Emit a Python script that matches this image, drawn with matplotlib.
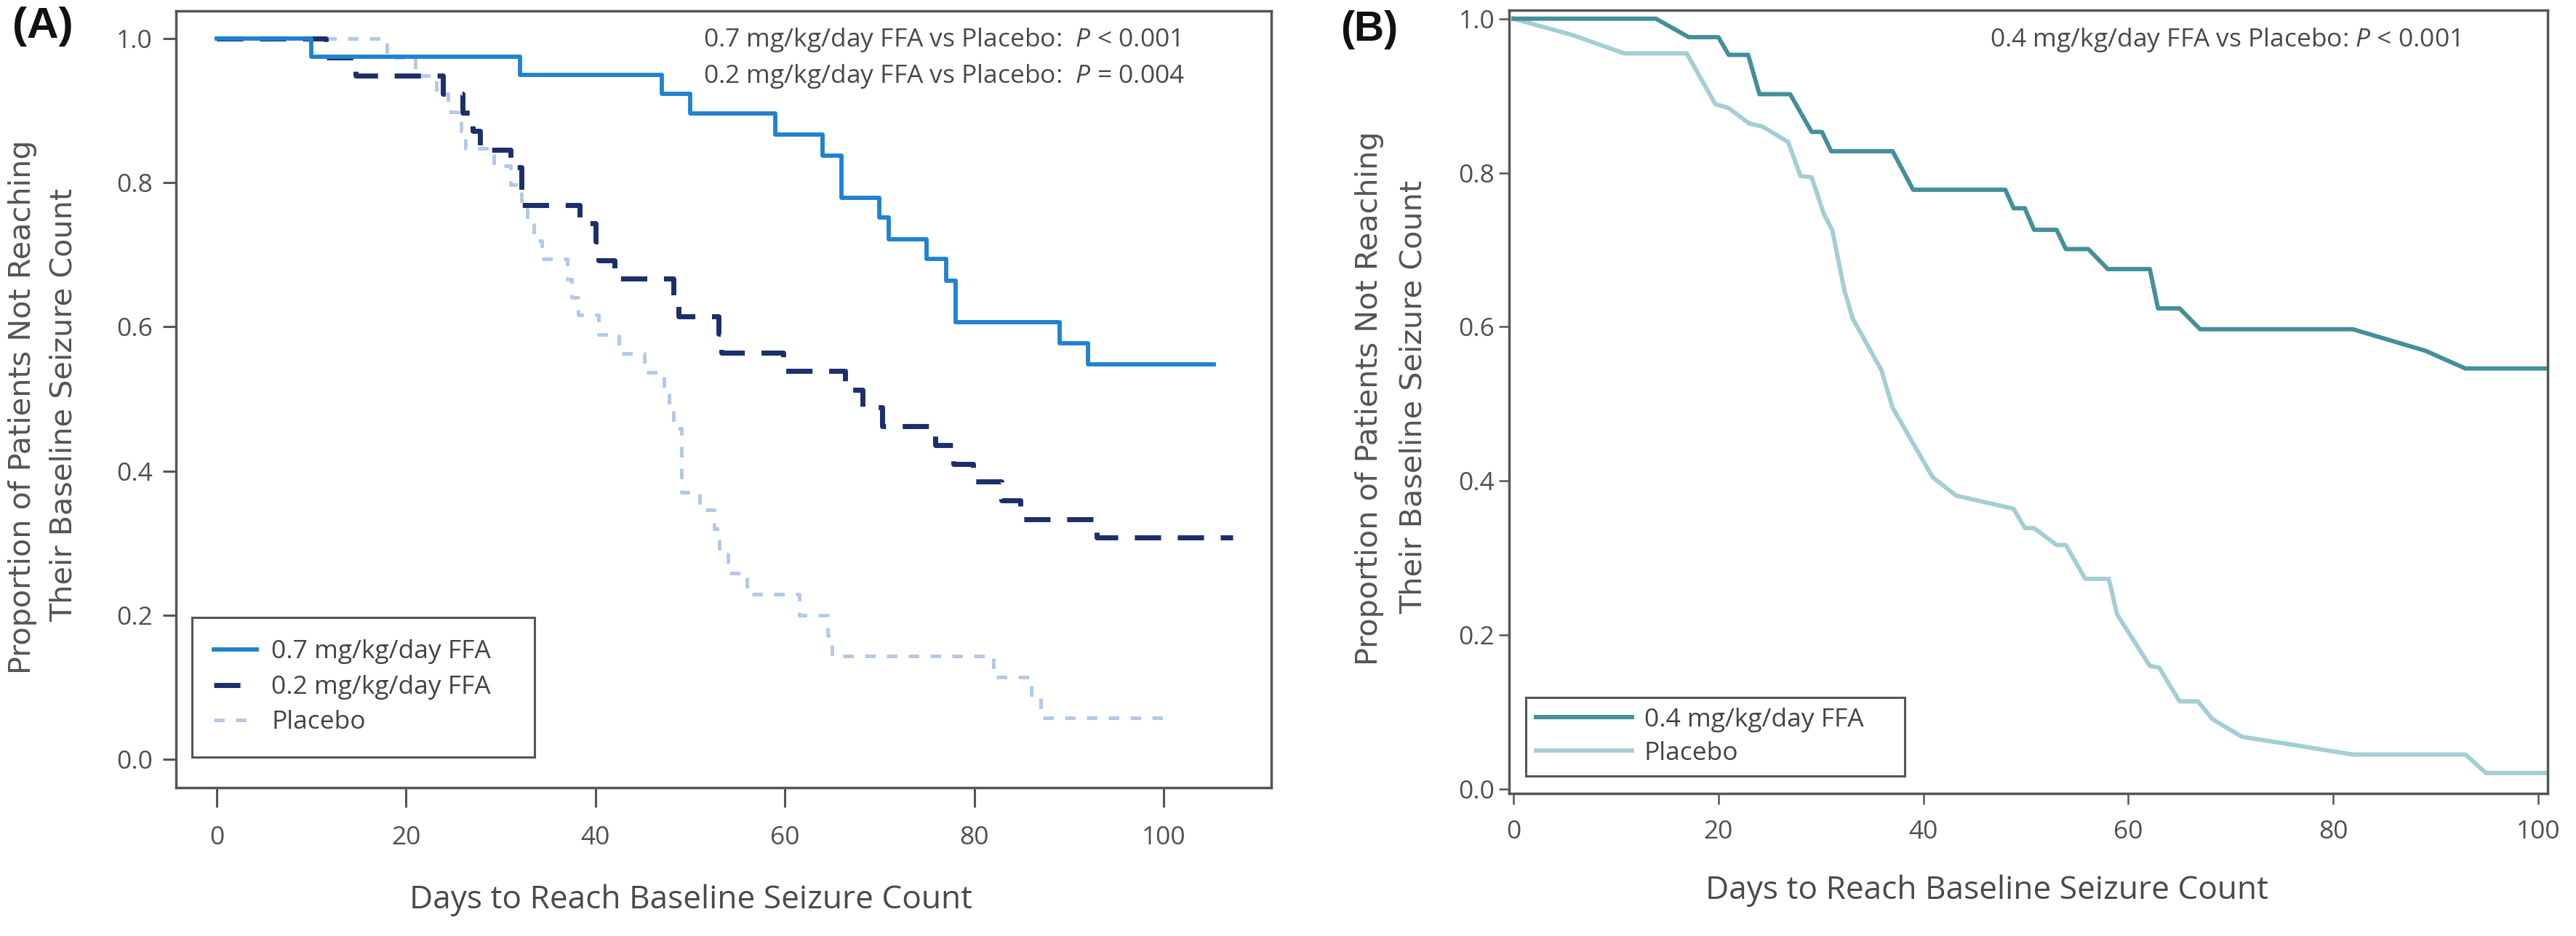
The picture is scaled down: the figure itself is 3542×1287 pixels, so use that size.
import matplotlib
matplotlib.use('Agg')
import matplotlib.pyplot as plt
from matplotlib.ticker import FormatStrFormatter

# ---------------- data ----------------
x_ticks = [0, 20, 40, 60, 80, 100]
y_ticks = [0.0, 0.2, 0.4, 0.6, 0.8, 1.0]

# Panel A - Kaplan-Meier steps (day of drop, proportion after drop)
ffa07_days = [0, 10, 32, 47, 50, 59, 64, 66, 70, 71, 75, 77, 78, 89, 92, 105.3]
ffa07_surv = [1.0, 0.975, 0.950, 0.923, 0.896, 0.867, 0.838, 0.779, 0.752,
              0.722, 0.694, 0.664, 0.606, 0.577, 0.548, 0.548]

ffa02_days = [0, 11.5, 14.7, 23.9, 26.0, 27.0, 27.8, 31.0, 32.2, 38.3, 40.0, 40.3,
              42.0, 48.2, 48.8, 53.0, 53.3, 59.8, 66.4, 68.2, 70.3, 75.9, 77.8,
              79.9, 82.9, 84.9, 92.9, 107.3]
ffa02_surv = [1.0, 0.974, 0.949, 0.923, 0.897, 0.872, 0.846, 0.821, 0.769, 0.744,
              0.718, 0.692, 0.667, 0.641, 0.615, 0.590, 0.564, 0.539, 0.513, 0.488,
              0.462, 0.436, 0.410, 0.385, 0.359, 0.333, 0.308, 0.308]

pboA_days = [0, 18.0, 21.0, 23.2, 24.4, 25.8, 26.3, 29.3, 31.0, 32.2, 32.8, 33.5,
             34.3, 37.0, 37.5, 38.2, 40.3, 42.5, 45.2, 47.2, 47.8, 48.2, 49.1, 51.0,
             52.5, 53.1, 54.0, 56.0, 61.5, 64.5, 65.0, 82.0, 86.0, 87.0, 100.0]
pboA_surv = [1.0, 0.974, 0.949, 0.923, 0.898, 0.872, 0.848, 0.823, 0.797, 0.772,
             0.746, 0.720, 0.694, 0.666, 0.641, 0.617, 0.589, 0.563, 0.537, 0.510,
             0.484, 0.459, 0.370, 0.346, 0.320, 0.285, 0.258, 0.229, 0.200, 0.172,
             0.143, 0.114, 0.086, 0.057, 0.057]

# Panel B - curve vertices
ffa04_days = [0, 13.9, 17.1, 20.0, 21.0, 22.9, 24.0, 27.0, 29.1, 30.1, 31.0, 37.0,
              39.0, 48.0, 48.8, 49.9, 50.8, 53.0, 53.9, 56.1, 58.0, 62.1, 62.9,
              65.0, 67.0, 81.9, 89.0, 92.9, 100.9]
ffa04_surv = [1.0, 1.0, 0.976, 0.976, 0.953, 0.953, 0.902, 0.902, 0.853, 0.853,
              0.828, 0.828, 0.778, 0.778, 0.754, 0.754, 0.726, 0.726, 0.701, 0.701,
              0.675, 0.675, 0.624, 0.624, 0.597, 0.597, 0.569, 0.546, 0.546]

pboB_days = [0, 5.7, 10.8, 16.9, 19.7, 21.0, 23.0, 24.3, 26.8, 28.0, 29.1, 30.3,
             31.1, 32.3, 33.1, 35.9, 37.0, 40.9, 43.2, 48.8, 49.9, 50.8, 53.0, 53.9,
             55.8, 58.1, 58.9, 62.1, 63.0, 65.0, 66.8, 68.2, 71.1, 75.4, 81.9, 92.9,
             94.9, 100.9]
pboB_surv = [1.0, 0.979, 0.955, 0.955, 0.889, 0.884, 0.864, 0.860, 0.840, 0.796,
             0.794, 0.746, 0.726, 0.647, 0.611, 0.544, 0.495, 0.405, 0.381, 0.364,
             0.339, 0.339, 0.317, 0.317, 0.273, 0.273, 0.227, 0.160, 0.158, 0.114,
             0.114, 0.091, 0.068, 0.059, 0.045, 0.045, 0.021, 0.021]

labels_A = ['0.7 mg/kg/day FFA', '0.2 mg/kg/day FFA', 'Placebo']
labels_B = ['0.4 mg/kg/day FFA', 'Placebo']
pvals_A = ['0.7 mg/kg/day FFA vs Placebo:  $P$ < 0.001',
           '0.2 mg/kg/day FFA vs Placebo:  $P$ = 0.004']
pval_B = '0.4 mg/kg/day FFA vs Placebo: $P$ < 0.001'
xlabel = 'Days to Reach Baseline Seizure Count'
ylabel1 = 'Proportion of Patients Not Reaching'
ylabel2 = 'Their Baseline Seizure Count'

# ---------------- style ----------------
plt.rcParams['font.family'] = ['Open Sans', 'DejaVu Sans']
plt.rcParams['mathtext.fontset'] = 'custom'
plt.rcParams['mathtext.rm'] = 'Open Sans'
plt.rcParams['mathtext.it'] = 'Open Sans:italic'
plt.rcParams['lines.scale_dashes'] = False

W, H = 3542, 1287
fig = plt.figure(figsize=(W / 100, H / 100), dpi=100)


def fx(px):
    return px / W


def fy(py):
    return 1 - py / H


def make_axes(l, t, r, b):
    return fig.add_axes([fx(l), fy(b), fx(r) - fx(l), fy(t) - fy(b)])


SPINE = '#555555'
TICKC = '#505050'
TEXTC = '#4a4a4a'
FS = 25.5

# ---------------- Panel A ----------------
axA = make_axes(242, 14.5, 1748, 1083)
lpb, = axA.step(pboA_days, pboA_surv, where='post', color='#b3c9e9', lw=3.6,
                linestyle=(0, (10.4, 11.2)), zorder=1)
l02, = axA.step(ffa02_days, ffa02_surv, where='post', color='#1c2f6b', lw=5.0,
                linestyle=(0, (26, 16.5)), zorder=2)
l07, = axA.step(ffa07_days, ffa07_surv, where='post', color='#1f82d2', lw=4.2,
                zorder=3)
axA.set_xlim(-4.3, 111.37)
axA.set_ylim(-0.0394, 1.0389)

# ---------------- Panel B ----------------
axB = make_axes(2075, 13.5, 3503, 1091)
lbp, = axB.plot(pboB_days, pboB_surv, color='#a3ced4', lw=4.3, zorder=1)
lbf, = axB.plot(ffa04_days, ffa04_surv, color='#44909a', lw=4.3, zorder=2)
axB.set_xlim(-0.43, 100.92)
axB.set_ylim(-0.0055, 1.0115)

for ax, xlen, ylen, xpad, ypad, tw in [(axA, 19.4, 13, 18, 10, 2.2),
                                       (axB, 10.5, 10, 15.5, 4.3, 1.8)]:
    ax.set_xticks(x_ticks)
    ax.set_yticks(y_ticks)
    ax.yaxis.set_major_formatter(FormatStrFormatter('%.1f'))
    for s in ax.spines.values():
        s.set_color(SPINE)
        s.set_linewidth(2.5)
    ax.tick_params(axis='x', direction='out', length=xlen, width=tw, pad=xpad,
                   color=SPINE, labelcolor=TICKC, labelsize=FS)
    ax.tick_params(axis='y', direction='out', length=ylen, width=tw, pad=ypad,
                   color=SPINE, labelcolor=TICKC, labelsize=FS)

# legends
legA = axA.legend([l07, l02, lpb], labels_A, loc='upper left',
                  bbox_to_anchor=(0.01461, 0.0365, 0.31275, 0.1825), mode='expand',
                  borderaxespad=0, borderpad=0.86, labelspacing=0.41,
                  handlelength=1.64, handletextpad=0.59, fontsize=FS,
                  fancybox=False, framealpha=1)
legB = axB.legend([lbf, lbp], labels_B, loc='upper left',
                  bbox_to_anchor=(0.01611, 0.01856, 0.36485, 0.10394), mode='expand',
                  borderaxespad=0, borderpad=0.39, labelspacing=0.34,
                  handlelength=3.73, handletextpad=0.48, fontsize=FS,
                  fancybox=False, framealpha=1)
for leg in (legA, legB):
    fr = leg.get_frame()
    fr.set_edgecolor(SPINE)
    fr.set_linewidth(2.2)
    for t in leg.get_texts():
        t.set_color('#444444')

# p-value annotations
fig.text(fx(967), fy(64.3), pvals_A[0], ha='left', va='baseline', fontsize=FS, color=TEXTC)
fig.text(fx(967), fy(114), pvals_A[1], ha='left', va='baseline', fontsize=FS, color=TEXTC)
fig.text(fx(2736), fy(64.5), pval_B, ha='left', va='baseline', fontsize=FS, color=TEXTC)

# axis labels
fig.text(fx(950), fy(1249), xlabel, ha='center', va='baseline', fontsize=31.9, color=TEXTC)
fig.text(fx(2732), fy(1236), xlabel, ha='center', va='baseline', fontsize=31.9, color=TEXTC)
for x1, y1, x2, y2 in [(31, 560, 88, 557), (1883, 548, 1944, 546)]:
    fig.text(fx(x1), fy(y1), ylabel1, rotation=90, ha='center', va='center',
             family='DejaVu Sans', fontsize=29.8, color='#555555')
    fig.text(fx(x2), fy(y2), ylabel2, rotation=90, ha='center', va='center',
             family='DejaVu Sans', fontsize=29.8, color='#555555')

# panel letters
fig.text(fx(17), fy(37), '(A)', ha='left', va='center', family='Liberation Sans',
         weight='bold', fontsize=43.5, color='#111111')
fig.text(fx(1843), fy(41.5), '(B)', ha='left', va='center', family='Liberation Sans',
         weight='bold', fontsize=41, color='#111111')

fig.savefig('out.png', dpi=100)
